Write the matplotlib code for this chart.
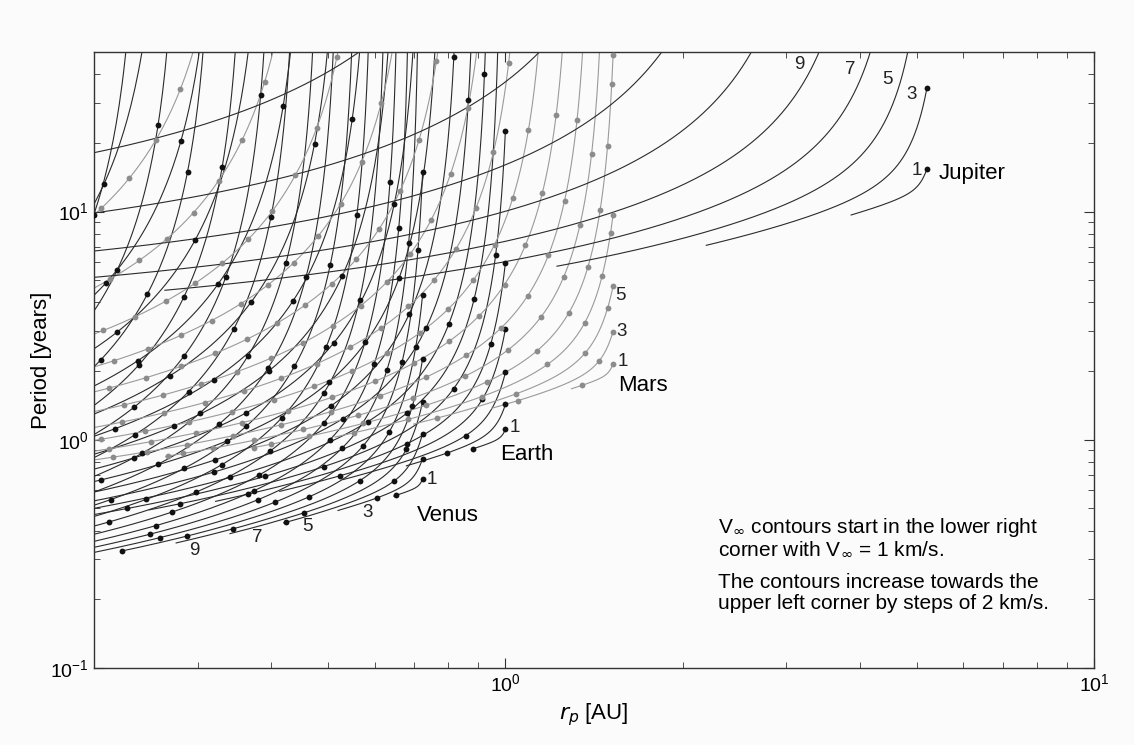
import numpy as np
import matplotlib
matplotlib.use("Agg")
import matplotlib.pyplot as plt

plt.rcParams['font.family'] = ['Liberation Sans', 'DejaVu Sans']

# sun / unit constants
mu_sun = 1.32712e11   # km^3/s^2
au_km = 1.495979e8

# planets
planets = ["Venus", "Earth", "Mars", "Jupiter"]
orbit_au = [0.7233, 1.0, 1.5237, 5.2026]
mu_planet = [324859.0, 398600.4, 42828.4, 1.26687e8]
radius_km = [6051.8, 6378.1, 3396.2, 71492.0]
vinf_levels = [list(range(1, 43, 2)), list(range(1, 43, 2)),
               list(range(1, 43, 2)), list(range(1, 19, 2))]
line_colors = ["#2b2b2b", "#2b2b2b", "#9a9a9a", "#2b2b2b"]
dot_colors = ["#111111", "#111111", "#8c8c8c", "#111111"]
show_steps = [True, True, True, False]

flyby_alt_km = 200.0


def contour(r_au, vinf, alpha):
    vp = np.sqrt(mu_sun / (r_au * au_km))
    u = vinf / vp
    c = np.cos(alpha)
    vt = 1 + u * c
    inv_a = 1 - 2 * u * c - u ** 2          # R/a
    ok = (inv_a > 1e-4) & (vt > 0)          # bound, prograde orbits only
    a = r_au / inv_a[ok]
    e = np.sqrt(np.clip(1 - vt[ok] ** 2 * inv_a[ok], 0, None))
    rp = r_au * vt[ok] ** 2 / (1 + e)
    return rp, a ** 1.5


fig = plt.figure(figsize=(11.34, 7.45), dpi=100)
fig.patch.set_facecolor("#fbfbfb")
ax = fig.add_axes([94 / 1134, 1 - 668 / 745, 1000 / 1134, 616 / 745])
ax.set_facecolor("#fbfbfb")

alpha_line = np.radians(np.linspace(0, 180, 1441))
ends = {}
for i, name in enumerate(planets):
    for v in vinf_levels[i]:
        rp, per = contour(orbit_au[i], v, alpha_line)
        ax.plot(rp, per, color=line_colors[i], lw=0.8, zorder=2)
        # dots: steps of the max turn angle of one flyby
        rfb = radius_km[i] + flyby_alt_km
        delta = 2 * np.arcsin(1 / (1 + rfb * v ** 2 / mu_planet[i]))
        if show_steps[i]:
            steps = np.arange(0, np.pi + 1e-9, delta)
        else:
            steps = np.array([0.0])
        drp, dper = contour(orbit_au[i], v, steps)
        ax.plot(drp, dper, 'o', color=dot_colors[i], ms=4.2, mec='none', zorder=3)
        a0, p0 = contour(orbit_au[i], v, np.array([0.0]))
        a1, p1 = contour(orbit_au[i], v, np.array([np.pi]))
        ends[(name, v)] = (a0, p0, a1, p1, rp, per)

ax.set_xscale("log")
ax.set_yscale("log")
ax.set_xlim(0.2, 10)
ax.set_ylim(0.1, 50)

# contour labels
fs_num = 13.5


def lab(txt, xy, off):
    ax.annotate(txt, xy=xy, xytext=off, textcoords="offset pixels",
                ha="center", va="center", fontsize=fs_num, color="#222222", zorder=5)


for v, off in zip([3, 5, 7, 9], [(30, -2), (24, -4), (27, -4), (18, -8)]):
    e = ends[("Venus", v)]
    lab(str(v), (e[2][0], e[3][0]), off)
e = ends[("Venus", 1)]
lab("1", (e[0][0], e[1][0]), (9, 0))
e = ends[("Earth", 1)]
lab("1", (e[0][0], e[1][0]), (9, 2))
for v, off in zip([1, 3, 5], [(10, 3), (8, 0), (7, -9)]):
    e = ends[("Mars", v)]
    lab(str(v), (e[0][0], e[1][0]), off)
e = ends[("Jupiter", 1)]
lab("1", (e[0][0], e[1][0]), (-10, -2))
for v, pl in zip([3, 5, 7, 9], [32.6, 37.9, 42.0, 44.2]):
    e = ends[("Jupiter", v)]
    rp, per = e[4], e[5]
    order = np.argsort(per)
    x = np.exp(np.interp(np.log(pl), np.log(per[order]), np.log(rp[order])))
    lab(str(v), (x, pl), (-14, 0))

fs_name = 16
ax.text(0.354, 0.248, "Venus", transform=ax.transAxes, ha="center", va="center", fontsize=fs_name)
ax.text(0.433, 0.346, "Earth", transform=ax.transAxes, ha="center", va="center", fontsize=fs_name)
ax.text(0.549, 0.459, "Mars", transform=ax.transAxes, ha="center", va="center", fontsize=fs_name)
ax.text(0.878, 0.802, "Jupiter", transform=ax.transAxes, ha="center", va="center", fontsize=fs_name)

note_lines = ["V$_{\\infty}$ contours start in the lower right",
              "corner with V$_{\\infty}$ = 1 km/s.",
              "The contours increase towards the",
              "upper left corner by steps of 2 km/s."]
for txt, yf in zip(note_lines, [0.2273, 0.1932, 0.138, 0.1039]):
    ax.text(0.624, yf, txt, transform=ax.transAxes, ha="left", va="center", fontsize=15)

ax.set_xlabel("$r_p$ [AU]", fontsize=16, va="center")
ax.xaxis.set_label_coords(0.5, -0.075)
ax.set_ylabel("Period [years]", fontsize=16, va="center")
ax.yaxis.set_label_coords(-0.053, 0.5)
ax.tick_params(which="both", direction="in", top=True, right=True, labelsize=14,
               color="#333333")
ax.tick_params(which="major", length=7)
ax.tick_params(which="minor", length=4)
for s in ax.spines.values():
    s.set_color("#333333")
    s.set_linewidth(1.0)

fig.savefig("out.png", dpi=100, facecolor=fig.get_facecolor())
